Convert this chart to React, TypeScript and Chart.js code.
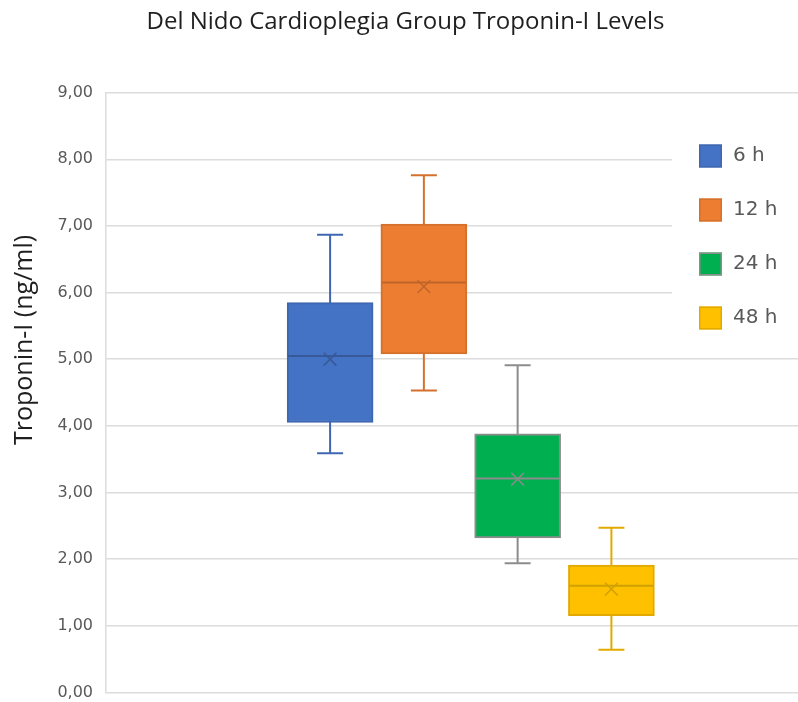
import React, { useEffect, useRef } from 'react';
import { Chart, registerables } from 'chart.js';

Chart.register(...registerables);

// ---- data ----
const seriesLabels = ['6 h', '12 h', '24 h', '48 h'];
const seriesPositions = [1, 2, 3, 4];
const minValues = [3.59, 4.53, 1.94, 0.64];
const q1Values = [4.05, 5.08, 2.32, 1.15];
const medianValues = [5.05, 6.15, 3.21, 1.6];
const meanValues = [5.0, 6.09, 3.2, 1.55];
const q3Values = [5.85, 7.03, 3.88, 1.91];
const maxValues = [6.87, 7.76, 4.91, 2.47];
const yTickLabels = ['0,00', '1,00', '2,00', '3,00', '4,00', '5,00', '6,00', '7,00', '8,00', '9,00'];
const chartTitle = 'Del Nido Cardioplegia Group Troponin-I Levels';
const yAxisTitle = 'Troponin-I (ng/ml)';

// ---- styles ----
const fillColors = ['#4472C4', '#ED7D31', '#00B050', '#FFC000'];
const edgeColors = ['#3E67B0', '#D4712D', '#8C8C8C', '#E2AA00'];
const markColors = ['#37599A', '#C0652A', '#8C8C8C', '#CFA000'];

const boxLegendPlugin = {
  id: 'boxLegend',
  afterDraw(chart: any, _args: any, opts: any) {
    const ctx = chart.ctx;
    ctx.save();
    ctx.fillStyle = '#ffffff';
    ctx.fillRect(opts.left, opts.top, opts.width, opts.height);
    const items = chart.data.datasets.filter((d: any) => d.isBox);
    items.forEach((d: any, k: number) => {
      const cy = opts.firstRowY + k * opts.rowGap;
      ctx.fillStyle = d.backgroundColor;
      ctx.fillRect(opts.boxX, cy - opts.boxSize / 2, opts.boxSize, opts.boxSize);
      ctx.strokeStyle = d.borderColor;
      ctx.lineWidth = 1.5;
      ctx.strokeRect(opts.boxX + 0.75, cy - opts.boxSize / 2 + 0.75, opts.boxSize - 1.5, opts.boxSize - 1.5);
      ctx.fillStyle = opts.color;
      ctx.font = opts.font;
      ctx.textBaseline = 'middle';
      ctx.textAlign = 'left';
      ctx.fillText(d.label, opts.textX, cy);
    });
    ctx.restore();
  },
};

const yTitlePlugin = {
  id: 'yTitle',
  afterDraw(chart: any, _args: any, opts: any) {
    const ctx = chart.ctx;
    ctx.save();
    ctx.translate(opts.x, opts.y);
    ctx.rotate(-Math.PI / 2);
    ctx.fillStyle = opts.color;
    ctx.font = opts.font;
    ctx.textAlign = 'center';
    ctx.textBaseline = 'middle';
    ctx.fillText(opts.text, 0, 0);
    ctx.restore();
  },
};

export default function App() {
  const canvasRef = useRef<HTMLCanvasElement | null>(null);

  useEffect(() => {
    document.body.style.margin = '0';
    const datasets: any[] = [];
    seriesLabels.forEach((label, i) => {
      const x = seriesPositions[i];
      datasets.push({
        type: 'line',
        label: label + ' whisker',
        data: [
          { x, y: minValues[i] },
          { x, y: maxValues[i] },
        ],
        borderColor: edgeColors[i],
        borderWidth: 2,
        pointRadius: 0,
        fill: false,
        order: 3,
      });
      datasets.push({
        type: 'bar',
        label,
        isBox: true,
        data: [{ x, y: [q1Values[i], q3Values[i]] }],
        backgroundColor: fillColors[i],
        borderColor: edgeColors[i],
        borderWidth: 2,
        borderSkipped: false,
        barThickness: 86,
        grouped: false,
        order: 2,
      });
      datasets.push({
        type: 'scatter',
        label: label + ' caps',
        data: [
          { x, y: minValues[i] },
          { x, y: maxValues[i] },
        ],
        pointStyle: 'line',
        pointRadius: 13,
        pointBorderColor: edgeColors[i],
        pointBorderWidth: 2,
        order: 1,
      });
      datasets.push({
        type: 'scatter',
        label: label + ' median',
        data: [{ x, y: medianValues[i] }],
        pointStyle: 'line',
        pointRadius: 42,
        pointBorderColor: markColors[i],
        pointBorderWidth: 2,
        order: 1,
      });
      datasets.push({
        type: 'scatter',
        label: label + ' mean',
        data: [{ x, y: meanValues[i] }],
        pointStyle: 'crossRot',
        pointRadius: 9,
        pointBorderColor: markColors[i],
        pointBorderWidth: 1.5,
        order: 1,
      });
    });

    const chart = new Chart(canvasRef.current as HTMLCanvasElement, {
      type: 'bar',
      data: { datasets },
      plugins: [boxLegendPlugin, yTitlePlugin],
      options: {
        animation: false,
        responsive: true,
        maintainAspectRatio: false,
        events: [],
        layout: { autoPadding: false, padding: { left: 13, right: 0, top: 0, bottom: 0 } },
        scales: {
          x: {
            type: 'linear',
            min: -1.39,
            max: 5.99,
            offset: false,
            display: false,
          },
          y: {
            min: 0,
            max: 9,
            ticks: {
              stepSize: 1,
              padding: 0,
              color: '#595959',
              font: { family: 'DejaVu Sans', size: 16 },
              callback: (_v: any, i: number) => yTickLabels[i] ?? '',
            },
            grid: {
              color: '#dcdcdc',
              lineWidth: 1.5,
              drawTicks: true,
              tickLength: 13,
              tickColor: 'rgba(0,0,0,0)',
            },
            border: { display: true, color: '#dcdcdc', width: 1.5 },
            afterFit: (s: any) => {
              s.width = 93;
            },
          },
        },
        plugins: {
          legend: { display: false },
          tooltip: { enabled: false },
          title: {
            display: true,
            text: chartTitle,
            color: '#1f1f1f',
            font: { family: 'Open Sans', size: 24, weight: 'normal' },
            padding: { top: 7.6, bottom: 56.3 },
          },
          boxLegend: {
            left: 672,
            top: 128,
            width: 126,
            height: 218,
            firstRowY: 156,
            rowGap: 54,
            boxX: 699,
            boxSize: 23,
            textX: 733,
            color: '#595959',
            font: '20px "DejaVu Sans"',
          },
          yTitle: {
            text: yAxisTitle,
            x: 25,
            y: 340,
            color: '#1f1f1f',
            font: '25px "Open Sans"',
          },
        } as any,
      },
    } as any);
    return () => chart.destroy();
  }, []);

  return (
    <div style={{ position: 'relative', width: 798, height: 702 }}>
      <canvas ref={canvasRef} />
    </div>
  );
}
